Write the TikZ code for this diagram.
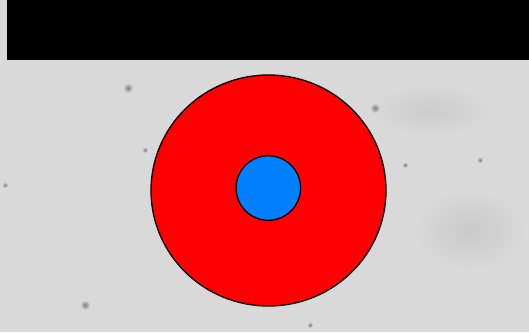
\documentclass[tikz,border=0pt]{standalone}
\usetikzlibrary{shapes.geometric}
\begin{document}
\begin{tikzpicture}[x=1pt,y=-1pt,
  ring/.style={draw=black,line width=1.3pt},
  spot/.style={inner color=black!50,outer color=black!15}]
\useasboundingbox (0,0) rectangle (529,332);
\fill[black!15] (0,0) rectangle (529,332);
% soft darker patches
\shade[inner color=black!21,outer color=black!15] (470,230) ellipse (55 and 40);
\shade[inner color=black!20,outer color=black!15] (430,110) ellipse (60 and 25);
% mottled texture spots
\shade[spot] (128,88) circle (5);
\shade[spot] (375,108) circle (5);
\shade[spot] (85,305) circle (5);
\shade[spot] (5,185) circle (3);
\shade[spot] (145,150) circle (3);
\shade[spot] (405,165) circle (3);
\shade[spot] (480,160) circle (3);
\shade[spot] (310,325) circle (3);
% black band
\fill[black] (7,0) rectangle (529,60);
% circles
\node[ring,fill=red,ellipse,minimum width=235pt,minimum height=231pt,inner sep=0pt] (outer) at (268.5,190.5) {};
\node[ring,fill={rgb,255:red,0;green,128;blue,255},circle,minimum size=64.5pt,inner sep=0pt] (inner) at (268.3,188) {};
\end{tikzpicture}
\end{document}
